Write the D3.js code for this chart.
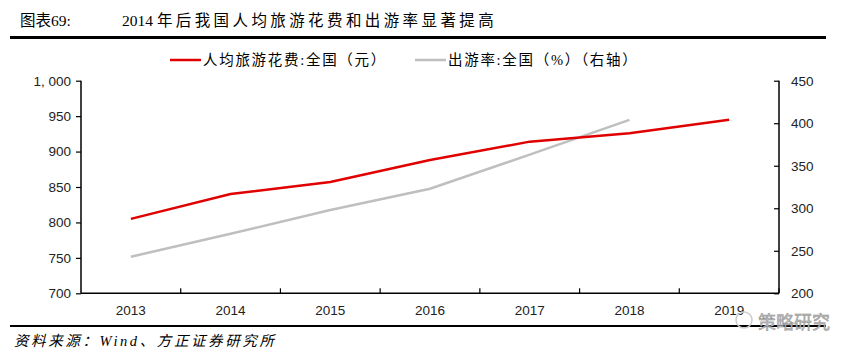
<!DOCTYPE html>
<html><head><meta charset="utf-8">
<script src="https://cdn.jsdelivr.net/npm/d3@7"></script>
<style>body{margin:0;background:#fff}svg{display:block}</style>
</head><body><svg id="c" width="859" height="359"></svg>
<script>
const years = ["2013","2014","2015","2016","2017","2018","2019"];
const spending = [805, 840, 857, 888, 914, 926, 945];
const travelRate = [243, 270, 298, 323, 363, 404, null];
const leftTicks = [700, 750, 800, 850, 900, 950, 1000];
const rightTicks = [200, 250, 300, 350, 400, 450];

const svg = d3.select("#c");
const L = 81, R = 779, T = 80.7, B = 293.3;
const cjk = '"Liberation Serif","Noto Sans CJK SC",serif';
const num = '"Liberation Sans",Arial,sans-serif';

// title
svg.append("text").attr("x", 20).attr("y", 26).attr("font-family", cjk).attr("font-size", 15.5).text("图表69:");
const tt = svg.append("text").attr("x", 122).attr("y", 26).attr("font-family", cjk).attr("font-size", 15.5);
tt.append("tspan").text("2014 ");
tt.append("tspan").attr("letter-spacing", 3.4).text("年后我国人均旅游花费和出游率显著提高");
svg.append("rect").attr("x", 10).attr("y", 36).attr("width", 816).attr("height", 3).attr("fill", "#000");

const x = d3.scaleBand().domain(years).range([L, R]).padding(0);
const yL = d3.scaleLinear().domain([700, 1000]).range([B, T]);
const yR = d3.scaleLinear().domain([200, 450]).range([B, T]);

// axes
const gl = svg.append("g").attr("transform", `translate(${L},0)`)
  .call(d3.axisLeft(yL).tickValues(leftTicks).tickSize(5).tickPadding(5)
    .tickFormat(d => d === 1000 ? "1, 000" : d));
const gr = svg.append("g").attr("transform", `translate(${R},0)`)
  .call(d3.axisRight(yR).tickValues(rightTicks).tickSize(-5).tickPadding(12));
const gx = svg.append("g").attr("transform", `translate(0,${B})`)
  .call(d3.axisBottom(x).tickSize(0).tickPadding(12));
[gl, gr, gx].forEach(g => {
  g.selectAll("path").attr("stroke", "#000").attr("stroke-width", 1.5);
  g.selectAll("line").attr("stroke", "#000").attr("stroke-width", 1.2);
  g.selectAll("text").attr("font-family", num).attr("font-size", 13.5).attr("fill", "#222");
});
gl.select(".domain").attr("d", `M0,${T}V${B}`);
gr.select(".domain").attr("d", `M0,${T}V${B}`);
gx.select(".domain").attr("d", `M${L},0H${R}`);
// x tick marks at band boundaries, pointing up
svg.append("g").selectAll("line").data(years.slice(1).concat(["end"])).join("line")
  .attr("x1", (d, i) => i < years.length - 1 ? x(d) : R)
  .attr("x2", (d, i) => i < years.length - 1 ? x(d) : R)
  .attr("y1", B).attr("y2", B - 5).attr("stroke", "#000").attr("stroke-width", 1.2);

// lines
const cx = d => x(d) + x.bandwidth() / 2;
svg.append("path").datum(years.map((d, i) => [d, travelRate[i]]).filter(d => d[1] != null))
  .attr("fill", "none").attr("stroke", "#bfbfbf").attr("stroke-width", 2.5)
  .attr("d", d3.line().x(d => cx(d[0])).y(d => yR(d[1])));
svg.append("path").datum(years.map((d, i) => [d, spending[i]]))
  .attr("fill", "none").attr("stroke", "#e00000").attr("stroke-width", 2.5)
  .attr("d", d3.line().x(d => cx(d[0])).y(d => yL(d[1])));

// legend
const lg = [
  {c: "#e00000", t: "人均旅游花费:全国（元）", x: 170},
  {c: "#bfbfbf", t: "出游率:全国（%）（右轴）", x: 415}
];
lg.forEach(l => {
  svg.append("line").attr("x1", l.x).attr("x2", l.x + 31).attr("y1", 60).attr("y2", 60)
    .attr("stroke", l.c).attr("stroke-width", 2.5);
  svg.append("text").attr("x", l.x + 33).attr("y", 65).attr("font-family", cjk).attr("font-size", 14.5)
    .attr("letter-spacing", 1.7).text(l.t);
});

// bottom rule and source
svg.append("rect").attr("x", 10).attr("y", 325).attr("width", 816).attr("height", 2).attr("fill", "#000");
svg.append("text").attr("x", 14).attr("y", 346).attr("font-family", cjk).attr("font-size", 14.5)
  .attr("font-style", "italic").attr("letter-spacing", 2.6).text("资料来源：Wind、方正证券研究所");
// watermark
svg.append("text").attr("x", 758).attr("y", 329).attr("font-family", '"Noto Sans CJK SC",sans-serif')
  .attr("font-size", 18).attr("fill", "#bbb").attr("stroke", "#888").attr("stroke-width", 0.4).text("策略研究");
svg.append("circle").attr("cx", 744).attr("cy", 320).attr("r", 8).attr("fill", "none").attr("stroke", "#ccc").attr("stroke-width", 1.5);
</script></body></html>
